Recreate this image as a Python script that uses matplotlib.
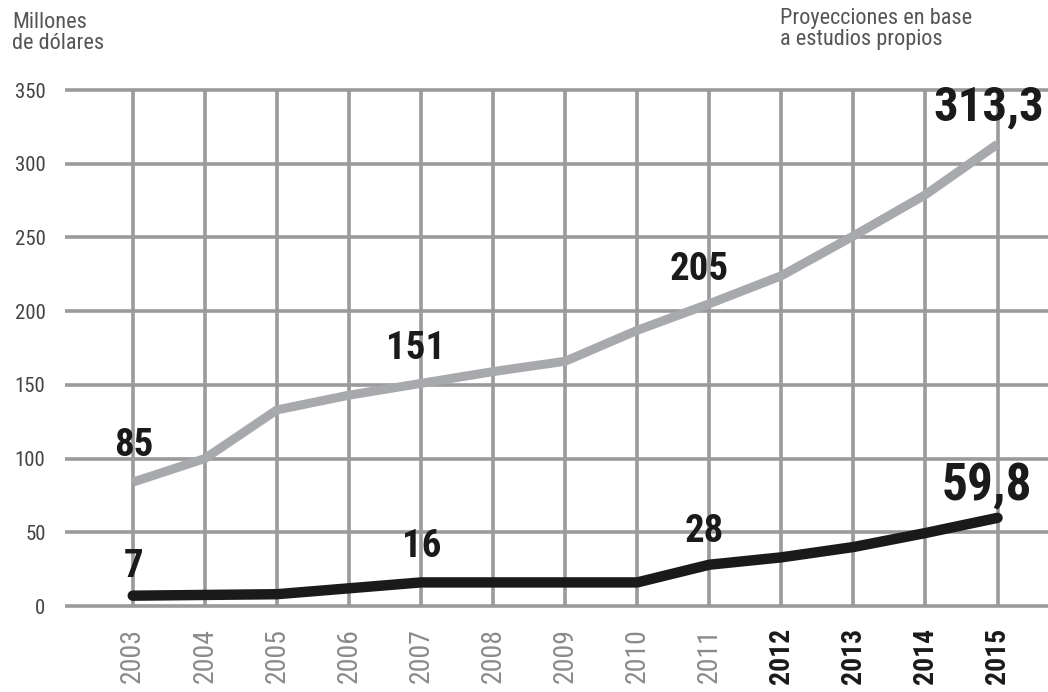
import matplotlib
matplotlib.use("Agg")
import matplotlib.pyplot as plt
from matplotlib import font_manager

# datos (millones de dólares)
years = [2003, 2004, 2005, 2006, 2007, 2008, 2009, 2010, 2011, 2012, 2013, 2014, 2015]
serie_gris = [84, 100, 133, 143, 151, 159, 166, 187, 205, 224, 251, 279, 313.3]
serie_negra = [7, 7.5, 8, 12, 16, 16, 16, 16, 28, 33, 40, 49.5, 59.8]
yticks = [0, 50, 100, 150, 200, 250, 300, 350]
proyectados = [2012, 2013, 2014, 2015]

# etiquetas: (año, texto, desplazamiento en px, tamaño)
etiquetas_gris = [(2003, "85", (1, 37), 28), (2007, "151", (-5, 35), 28),
                  (2011, "205", (-10, 34), 28), (2015, "313,3", (-9, 37), 35)]
etiquetas_negra = [(2003, "7", (1, 29), 28), (2007, "16", (1, 36), 28),
                   (2011, "28", (-5, 33), 28), (2015, "59,8", (-11, 31), 37)]

disponibles = {f.name for f in font_manager.fontManager.ttflist}
fuente = "DejaVu Sans"
for nombre in ["Roboto Condensed", "Liberation Sans Narrow", "Open Sans Condensed", "Roboto"]:
    if nombre in disponibles:
        fuente = nombre
        break
plt.rcParams['font.family'] = [fuente, 'DejaVu Sans']

GRIS_LINEA = "#a7a9ac"
GRIS_GRID = "#9a9a9a"
NEGRO = "#1a1a1a"

fig = plt.figure(figsize=(10.48, 6.92), dpi=100)
ax = fig.add_axes([65 / 1048, 86 / 692, 1 - 65 / 1048, 516 / 692])
ax.set_xlim(2002.06, 2015.7)
ax.set_ylim(0, 350)
for s in ax.spines.values():
    s.set_visible(False)

# cuadrícula
ax.hlines(yticks, 2002.06, 2015.7, color=GRIS_GRID, lw=2.6, clip_on=False, zorder=1)
ax.vlines(years, 0, 350, color=GRIS_GRID, lw=2.6, clip_on=False, zorder=1)

ax.plot(years, serie_gris, color=GRIS_LINEA, lw=6.5, solid_capstyle="butt", zorder=3)
ax.plot(years, serie_negra, color=NEGRO, lw=7.5, solid_capstyle="round", zorder=3)

for serie, etiquetas in [(serie_gris, etiquetas_gris), (serie_negra, etiquetas_negra)]:
    for anio, txt, off, fs in etiquetas:
        y = serie[years.index(anio)]
        ax.annotate(txt, (anio, y), xytext=off, textcoords="offset pixels",
                    ha="center", va="center", fontsize=fs, fontweight="bold",
                    color=NEGRO, zorder=5)

ax.set_yticks(yticks)
ax.set_yticklabels([str(v) for v in yticks], fontsize=15, color="#444444")
ax.set_xticks(years)
ax.set_xticklabels([str(a) for a in years], rotation=90, fontsize=20)
for lab, a in zip(ax.get_xticklabels(), years):
    if a in proyectados:
        lab.set_color(NEGRO)
        lab.set_fontweight("bold")
    else:
        lab.set_color("#8a8a8a")
ax.tick_params(axis="y", length=0, pad=14)
ax.tick_params(axis="x", length=0, pad=16)

fig.text(12 / 1048, 1 - 12 / 692, "Millones\nde dólares", ha="left", va="top",
         fontsize=16, color="#555555", linespacing=1.0)
fig.text(780 / 1048, 1 - 8 / 692, "Proyecciones en base\na estudios propios",
         ha="left", va="top", fontsize=16, color="#555555", linespacing=1.0)

fig.savefig("out.png", dpi=100)
